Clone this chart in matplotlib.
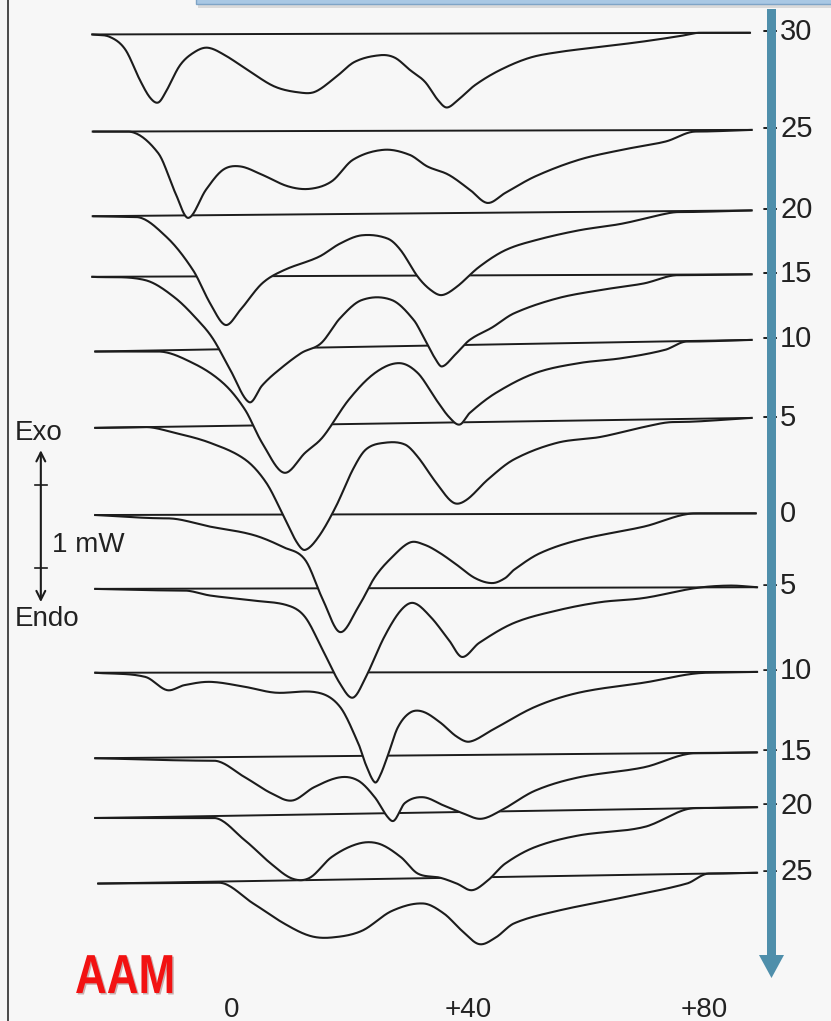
import numpy as np
import matplotlib
matplotlib.use("Agg")
import matplotlib.pyplot as plt
from matplotlib.transforms import Affine2D
from matplotlib.patches import Polygon, Rectangle, PathPatch
from matplotlib.textpath import TextPath
from matplotlib.font_manager import FontProperties

# ---------------- data (temperature in degC, heat flow in mW) ----------------
trace_labels = ["\u221230", "\u221225", "\u221220", "\u221215", "\u221210", "\u22125",
                "0", "+5", "+10", "+15", "+20", "+25"]
trace_offsets = [5.81, 4.64, 3.66, 2.89, 2.11, 1.16, 0.0, -0.87, -1.89, -2.86, -3.51, -4.31]

t_m30 = [-23.7, -20.7, -18.1, -15.6, -13.9, -12.5, -11.2, -8.8, -6.3, -4.1, -1.2, 3.1, 7.3, 11.5,
         14.1, 17.5, 20.8, 25.1, 27.6, 30.2, 32.7, 34.9, 36.4, 38.3, 41.2, 45.4, 50.5, 55.6, 62.4,
         69.2, 75.9, 79.3, 87.8]
s_m30 = [-0.02, -0.05, -0.20, -0.57, -0.78, -0.84, -0.71, -0.39, -0.23, -0.18, -0.27, -0.47, -0.65,
         -0.72, -0.71, -0.54, -0.35, -0.27, -0.30, -0.45, -0.59, -0.81, -0.90, -0.81, -0.63, -0.45,
         -0.30, -0.23, -0.17, -0.11, -0.04, 0.0, 0.0]

t_m25 = [-23.6, -17.7, -12.5, -9.6, -7.4, -4.4, -1.5, 1.4, 5.1, 9.5, 13.2, 16.9, 20.5, 25.7, 30.1,
         33.1, 36.7, 40.3, 43.3, 46.3, 51.4, 58.8, 66.1, 73.5, 78.6, 88.1]
s_m25 = [-0.02, -0.02, -0.28, -0.76, -1.06, -0.72, -0.48, -0.44, -0.54, -0.68, -0.71, -0.62, -0.36,
         -0.24, -0.30, -0.44, -0.54, -0.72, -0.88, -0.76, -0.56, -0.36, -0.24, -0.14, -0.02, 0.0]

t_m20 = [-23.6, -16.3, -11.1, -6.6, -3.7, -1.1, 1.4, 5.1, 8.8, 14.7, 18.3, 22.0, 26.4, 28.6, 31.5,
         33.7, 35.6, 38.1, 41.9, 46.3, 51.4, 58.8, 66.1, 73.5, 75.7, 88.1]
s_m20 = [-0.06, -0.07, -0.31, -0.71, -1.11, -1.37, -1.19, -0.87, -0.71, -0.55, -0.39, -0.29, -0.33,
         -0.47, -0.79, -0.95, -1.01, -0.91, -0.67, -0.47, -0.35, -0.23, -0.15, -0.03, -0.01, 0.01]

t_m15 = [-23.7, -14.7, -9.7, -5.3, -3.1, -0.3, 2.9, 5.1, 7.3, 11.7, 15.1, 18.3, 22.0, 27.1, 30.8,
         32.7, 34.4, 35.6, 37.8, 40.3, 44.1, 47.8, 55.1, 62.4, 69.8, 75.6, 88.1]
s_m15 = [-0.02, -0.06, -0.27, -0.58, -0.78, -1.14, -1.53, -1.33, -1.18, -0.94, -0.82, -0.52, -0.30,
         -0.30, -0.54, -0.78, -1.00, -1.10, -0.96, -0.78, -0.63, -0.46, -0.28, -0.18, -0.10, 0.0, 0.01]

t_m10 = [-23.2, -12.5, -6.6, -1.5, 2.2, 5.1, 8.8, 12.4, 15.4, 19.8, 24.2, 28.3, 31.5, 34.6, 36.8,
         38.6, 40.3, 44.7, 51.4, 58.8, 66.1, 73.4, 77.1, 88.1]
s_m10 = [-0.14, -0.14, -0.28, -0.52, -0.84, -1.24, -1.60, -1.36, -1.17, -0.72, -0.40, -0.28, -0.40,
         -0.72, -0.93, -1.02, -0.88, -0.64, -0.40, -0.28, -0.22, -0.12, -0.02, 0.0]

t_m5 = [-23.2, -14.7, -9.7, -3.7, 2.2, 5.8, 8.8, 11.0, 12.4, 14.7, 17.6, 20.5, 22.7, 25.8, 29.3,
        31.5, 34.6, 37.5, 39.7, 43.4, 47.8, 55.1, 62.4, 69.8, 74.9, 88.1]
s_m5 = [-0.11, -0.10, -0.17, -0.29, -0.49, -0.77, -1.18, -1.49, -1.58, -1.42, -1.06, -0.61, -0.37,
        -0.29, -0.31, -0.46, -0.77, -1.01, -0.98, -0.73, -0.49, -0.29, -0.22, -0.10, -0.04, 0.01]

t_0 = [-23.2, -11.0, -3.7, 3.6, 8.8, 12.4, 15.4, 18.3, 21.4, 24.2, 27.1, 30.2, 32.7, 35.3, 38.1,
       41.2, 44.1, 46.3, 47.8, 52.2, 58.8, 69.8, 78.6, 88.8]
s_0 = [0.0, -0.04, -0.14, -0.24, -0.39, -0.54, -1.02, -1.41, -1.11, -0.75, -0.51, -0.33, -0.36,
       -0.46, -0.60, -0.76, -0.82, -0.76, -0.66, -0.46, -0.30, -0.14, 0.02, 0.02]

t_p5 = [-23.2, -8.1, -3.7, 3.6, 9.5, 12.4, 15.4, 18.3, 20.5, 22.7, 25.8, 28.6, 30.8, 33.7, 36.8,
        39.0, 41.9, 47.8, 55.1, 62.4, 69.8, 78.6, 84.4, 89.0]
s_p5 = [-0.02, -0.04, -0.10, -0.16, -0.22, -0.36, -0.76, -1.16, -1.33, -1.08, -0.60, -0.28, -0.19,
        -0.36, -0.64, -0.84, -0.67, -0.43, -0.28, -0.18, -0.13, -0.01, 0.02, 0.0]

t_p10 = [-23.2, -14.7, -11.0, -8.1, -3.7, 2.2, 7.3, 14.6, 18.3, 21.4, 22.7, 24.2, 25.1, 26.4, 28.1,
         30.2, 32.4, 35.3, 38.1, 40.3, 44.1, 51.4, 58.8, 69.8, 80.8, 89.0]
s_p10 = [-0.01, -0.06, -0.22, -0.16, -0.12, -0.18, -0.25, -0.25, -0.42, -0.86, -1.12, -1.33, -1.25,
         -1.01, -0.67, -0.49, -0.48, -0.61, -0.78, -0.84, -0.70, -0.42, -0.25, -0.13, -0.01, 0.0]

t_p15 = [-23.2, -3.1, 2.2, 6.6, 10.2, 13.9, 18.3, 21.4, 24.2, 26.4, 27.5, 29.3, 32.4, 35.9, 39.0,
         42.2, 45.6, 51.4, 58.8, 69.8, 78.6, 89.0]
s_p15 = [-0.07, -0.10, -0.30, -0.49, -0.58, -0.42, -0.30, -0.34, -0.54, -0.78, -0.82, -0.61, -0.54,
         -0.64, -0.73, -0.80, -0.70, -0.46, -0.30, -0.18, -0.01, 0.0]

t_p20 = [-23.2, -3.1, 2.2, 6.6, 10.2, 13.2, 16.9, 21.4, 24.9, 28.6, 31.5, 35.3, 38.1, 40.7, 43.4,
         46.3, 51.4, 58.8, 69.8, 78.6, 89.0]
s_p20 = [-0.14, -0.14, -0.41, -0.69, -0.87, -0.86, -0.61, -0.45, -0.45, -0.61, -0.81, -0.86, -0.93,
         -1.01, -0.89, -0.69, -0.49, -0.35, -0.25, -0.02, -0.01]

t_p25 = [-22.7, -2.2, 3.6, 8.8, 13.2, 16.9, 22.0, 27.1, 32.4, 35.9, 39.0, 41.9, 44.7, 47.8, 55.1,
         66.1, 77.1, 80.8, 89.0]
s_p25 = [-0.13, -0.12, -0.37, -0.61, -0.76, -0.78, -0.70, -0.46, -0.37, -0.49, -0.70, -0.86, -0.78,
         -0.61, -0.46, -0.30, -0.13, -0.01, 0.0]

trace_temps = [t_m30, t_m25, t_m20, t_m15, t_m10, t_m5, t_0, t_p5, t_p10, t_p15, t_p20, t_p25]
trace_sigs = [s_m30, s_m25, s_m20, s_m15, s_m10, s_m5, s_0, s_p5, s_p10, s_p15, s_p20, s_p25]

x_ticks = [0, 40, 80]
x_tick_labels = ["0", "+40", "+80"]
scale_bar_mw = 1.0
corner_label = "AAM"

# ---------------- figure ----------------
W, H, DPI = 831, 1021, 100
BG = "#f7f7f7"
LINE = "#1c1c1c"
fig = plt.figure(figsize=(W / DPI, H / DPI), dpi=DPI, facecolor=BG)
ax = fig.add_axes([0, 0, 1, 1])
ax.set_facecolor(BG)
ax.set_xlim(-39.32, 101.53)
ax.set_ylim(-6.096, 6.205)
ax.axis("off")

# pixel (from top-left) transform for decorations
pxT = Affine2D().scale(1 / DPI, -1 / DPI).translate(0, H / DPI) + fig.dpi_scale_trans

font = "Liberation Sans"


def smooth_curve(x, y, n=20):
    """Cubic Hermite through the read points, with central-difference tangents
    (flat tangent where the trace leaves / rejoins a flat baseline stretch)."""
    x = np.asarray(x, float)
    y = np.asarray(y, float)
    h = np.diff(x)
    d = np.diff(y) / h
    m = np.empty_like(y)
    m[1:-1] = (y[2:] - y[:-2]) / (x[2:] - x[:-2])
    m[0] = d[0]
    m[-1] = d[-1]
    for i in (1, len(x) - 2):
        if min(abs(d[i - 1]), abs(d[i])) < 0.004:
            m[i] = 0.0
    t = np.linspace(0, 1, n, endpoint=False)
    h00 = 2 * t**3 - 3 * t**2 + 1
    h10 = t**3 - 2 * t**2 + t
    h01 = -2 * t**3 + 3 * t**2
    h11 = t**3 - t**2
    xs, ys = [], []
    for i in range(len(h)):
        xs.append(x[i] + t * h[i])
        ys.append(h00 * y[i] + h10 * h[i] * m[i] + h01 * y[i + 1] + h11 * h[i] * m[i + 1])
    xs.append([x[-1]])
    ys.append([y[-1]])
    return np.concatenate(xs), np.concatenate(ys)


n_tr = len(trace_temps)
for i, (tt, ss, off, lab) in enumerate(zip(trace_temps, trace_sigs, trace_offsets, trace_labels)):
    z = 10 + (n_tr - i) * 3
    xf, yf = smooth_curve(tt, ss)
    base = np.interp(xf, [tt[0], tt[-1]], [ss[0], ss[-1]])
    ax.fill_between(xf, off + yf, off + base, color=BG, lw=0, zorder=z)
    ax.plot([tt[0], tt[-1]], [off + ss[0], off + ss[-1]], color=LINE, lw=1.4, zorder=z + 1,
            solid_capstyle="butt")
    ax.plot(xf, off + yf, color=LINE, lw=1.5, zorder=z + 1, solid_joinstyle="round")
    # right-hand label: sign (partly hidden by arrow) and number
    sign = lab[0] if lab[0] in "\u2212+" else ""
    num = lab[len(sign):]
    if sign:
        ax.text(91.1, off, sign, ha="center", va="center", fontsize=20, family=font,
                color="#222222", zorder=60)
    ax.text(92.9, off + 0.01, num, ha="left", va="center", fontsize=21, family=font,
            color="#222222", zorder=60)

# bottom temperature labels
for xt, xl in zip(x_ticks, x_tick_labels):
    ax.text(xt, -5.807, xl, ha="center", va="top", fontsize=20, family=font, color="#222222")

# scale bar (Exo / Endo, 1 mW)
xb = -32.4
yb_top = 0.361
yb_bot = yb_top - scale_bar_mw
ax.annotate("", xy=(xb, yb_top + 0.42), xytext=(xb, yb_bot - 0.41),
            arrowprops=dict(arrowstyle="<->", color=LINE, lw=1.5, mutation_scale=16,
                            shrinkA=0, shrinkB=0))
for yy in (yb_top, yb_bot):
    ax.plot([xb - 1.0, xb + 1.0], [yy, yy], color=LINE, lw=1.2)
ax.text(15, 433, "Exo", transform=pxT, ha="left", va="center", fontsize=20, family=font,
        color="#222222")
ax.text(52, 545, "1 mW", transform=pxT, ha="left", va="center", fontsize=20, family=font,
        color="#222222")
ax.text(15, 619, "Endo", transform=pxT, ha="left", va="center", fontsize=20, family=font,
        color="#222222")

# left frame line
ax.plot([7.5, 7.5], [0, H], transform=pxT, color="#3c3c3c", lw=1.3, zorder=70)

# blue arrow on the right
cx, hw, hh = 771.5, 4.5, 12.5
arrow_pts = [(cx - hw, 9), (cx + hw, 9), (cx + hw, 955), (cx + hh, 955), (cx, 978),
             (cx - hh, 955), (cx - hw, 955)]
ax.add_patch(Polygon(arrow_pts, closed=True, transform=pxT, facecolor="#4f8fab",
                     edgecolor="none", zorder=80))

# top banner strip
ax.add_patch(Rectangle((198, 3), 640, 5, transform=pxT, facecolor="#dadada", edgecolor="none",
                       zorder=79))
ax.add_patch(Rectangle((196, -4), 640, 8, transform=pxT, facecolor="#a9c8e4",
                       edgecolor="#7fa4c6", lw=1.0, zorder=80))

# AAM label (horizontally condensed bold)
tp = TextPath((0, 0), corner_label, size=55, prop=FontProperties(family=font, weight="bold"))
base_tr = Affine2D().scale(0.8, -1)
ax.add_patch(PathPatch(tp, transform=base_tr + Affine2D().translate(76.5, 994.5) + pxT,
                       facecolor="#5a0a0a", edgecolor="none", alpha=0.3, zorder=85))
ax.add_patch(PathPatch(tp, transform=base_tr + Affine2D().translate(75, 993) + pxT,
                       facecolor="#f21212", edgecolor="none", zorder=86))

fig.savefig("out.png", dpi=DPI, facecolor=BG)
